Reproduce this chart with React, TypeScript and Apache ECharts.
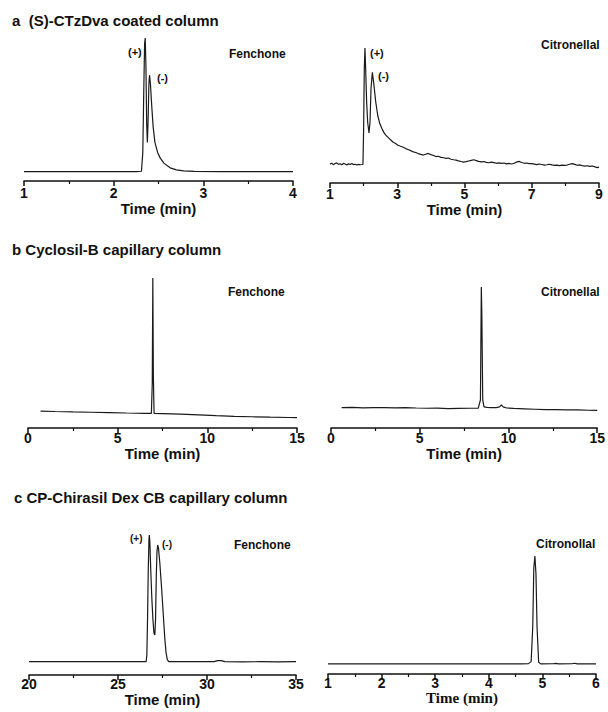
import React, { useEffect, useRef } from "react";
import * as echarts from "echarts";

// Panel a (left): Fenchone on (S)-CTzDva coated column
const aFenTime = [1.0, 1.5, 2.0, 2.25, 2.31, 2.325, 2.335, 2.345, 2.352, 2.36, 2.368, 2.376, 2.385, 2.393, 2.40, 2.41, 2.425, 2.44, 2.46, 2.49, 2.52, 2.56, 2.63, 2.70, 2.78, 2.9, 3.2, 3.6, 4.0];
const aFenSignal = [6.5, 6.5, 6.5, 6.5, 6.8, 20, 60, 96, 100, 80, 40, 27, 45, 68, 74, 68, 52, 38, 27, 20, 16, 12.5, 9.2, 7.8, 7.1, 6.7, 6.5, 6.5, 6.5];

// Panel a (right): Citronellal on (S)-CTzDva coated column
const aCitTime = [1.0, 1.05, 1.1, 1.15, 1.2, 1.25, 1.3, 1.35, 1.4, 1.45, 1.5, 1.55, 1.6, 1.65, 1.7, 1.75, 1.8, 1.85, 1.9, 1.95, 1.98, 2.0, 2.02, 2.04, 2.06, 2.09, 2.12, 2.16, 2.19, 2.22, 2.26, 2.3, 2.36, 2.42, 2.48, 2.54, 2.6, 2.66, 2.72, 2.8, 2.88, 2.95, 3.02, 3.1, 3.18, 3.25, 3.32, 3.4, 3.48, 3.55, 3.62, 3.7, 3.78, 3.85, 3.92, 4.0, 4.08, 4.15, 4.22, 4.3, 4.38, 4.45, 4.52, 4.6, 4.68, 4.75, 4.82, 4.9, 4.97, 5.05, 5.12, 5.2, 5.28, 5.35, 5.42, 5.5, 5.58, 5.65, 5.72, 5.8, 5.88, 5.95, 6.02, 6.1, 6.18, 6.25, 6.32, 6.4, 6.48, 6.55, 6.62, 6.7, 6.78, 6.85, 6.92, 7.0, 7.08, 7.15, 7.22, 7.3, 7.38, 7.45, 7.52, 7.6, 7.68, 7.75, 7.82, 7.9, 7.98, 8.05, 8.12, 8.2, 8.28, 8.35, 8.42, 8.5, 8.58, 8.65, 8.72, 8.8, 8.88, 8.95, 9.0];
const aCitSignal = [14.0, 14.6, 13.6, 14.4, 14.9, 13.8, 14.3, 13.5, 14.5, 14.1, 13.4, 14.2, 13.7, 14.4, 13.6, 13.9, 13.3, 13.8, 13.5, 13.7, 13.9, 40, 85, 100, 85, 60, 45, 37, 45, 70, 82, 74, 60, 50, 44, 40.5, 37.5, 35.5, 34.0, 32.0, 30.2, 29.3, 28.0, 27.2, 26.5, 25.5, 24.8, 24.0, 23.0, 22.6, 21.8, 21.2, 20.7, 21.3, 21.9, 21.0, 20.4, 19.6, 19.8, 19.0, 18.7, 18.2, 18.5, 17.6, 17.2, 16.9, 16.4, 15.9, 15.5, 15.8, 16.3, 16.8, 17.2, 16.6, 16.0, 15.7, 15.9, 15.3, 15.0, 15.4, 15.1, 14.6, 14.9, 14.5, 14.8, 14.2, 14.5, 14.1, 14.6, 15.5, 16.0, 15.2, 14.6, 14.8, 14.3, 14.4, 14.0, 13.6, 14.1, 13.7, 13.2, 13.5, 13.9, 13.4, 13.0, 13.3, 12.9, 13.2, 13.0, 13.3, 13.9, 14.4, 13.8, 13.1, 13.4, 12.9, 12.5, 12.8, 12.3, 12.6, 11.9, 11.4, 11.8];

// Panel b (left): Fenchone on Cyclosil-B
const bFenTime = [0.7, 1.5, 2.5, 3.5, 4.5, 5.5, 6.5, 6.88, 6.93, 6.96, 6.99, 7.03, 7.5, 8.5, 9.5, 10.5, 11.5, 12.5, 13.5, 14.5, 15.0];
const bFenSignal = [11.3, 11.0, 10.7, 10.5, 10.3, 10.0, 9.8, 9.8, 30, 100, 35, 9.8, 9.6, 9.2, 8.7, 8.2, 7.8, 7.5, 7.2, 7.0, 6.9];

// Panel b (right): Citronellal on Cyclosil-B
const bCitTime = [0.6, 1.2, 1.8, 2.4, 3.0, 3.6, 4.2, 4.8, 5.4, 6.0, 6.6, 7.2, 7.8, 8.3, 8.42, 8.47, 8.5, 8.55, 8.62, 8.8, 9.0, 9.3, 9.5, 9.6, 9.7, 9.9, 10.3, 10.9, 11.5, 12.1, 12.7, 13.3, 13.9, 14.5, 15.0];
const bCitSignal = [14.4, 14.6, 14.3, 14.5, 14.4, 14.3, 14.5, 14.2, 14.0, 14.1, 13.8, 13.9, 14.0, 14.1, 20, 100, 80, 20, 15.0, 14.6, 14.4, 14.5, 15.0, 16.4, 15.0, 14.2, 13.9, 13.6, 13.3, 13.0, 13.0, 12.9, 12.8, 12.6, 12.5];

// Panel c (left): Fenchone on CP-Chirasil Dex CB
const cFenTime = [20, 22, 24, 26, 26.58, 26.62, 26.66, 26.7, 26.74, 26.76, 26.79, 26.84, 26.9, 26.96, 27.02, 27.07, 27.11, 27.15, 27.19, 27.23, 27.28, 27.35, 27.45, 27.55, 27.63, 27.7, 27.77, 27.85, 28.2, 29.5, 30.4, 30.6, 30.8, 31.0, 32, 33, 34, 35];
const cFenSignal = [9.5, 9.5, 9.5, 9.5, 9.5, 14, 40, 75, 97, 100, 95, 75, 55, 40, 30, 28.6, 40, 70, 88, 92.9, 90, 80, 62, 42, 26, 16, 11, 9.6, 9.5, 9.5, 9.6, 10.3, 10.3, 9.6, 9.4, 9.5, 9.4, 9.6];

// Panel c (right): Citronellal on CP-Chirasil Dex CB
const cCitTime = [1.0, 2.0, 3.0, 4.0, 4.6, 4.74, 4.79, 4.82, 4.84, 4.86, 4.88, 4.9, 4.93, 4.97, 5.2, 5.25, 5.3, 5.55, 5.6, 5.65, 6.0];
const cCitSignal = [8.5, 8.5, 8.5, 8.5, 8.5, 8.8, 10.5, 40, 90, 100, 85, 40, 10, 8.6, 8.7, 9.0, 8.6, 8.7, 9.1, 8.6, 8.5];

const panelTitles = ["a  (S)-CTzDva coated column", "b Cyclosil-B capillary column", "c CP-Chirasil Dex CB capillary column"];
const axisName = "Time (min)";

const SANS = "Arial, 'Liberation Sans', Helvetica, sans-serif";
const SERIF = "'Times New Roman', 'Liberation Serif', serif";
const INK = "#111";

function zip(t: number[], v: number[]) {
  return t.map((x, i) => [x, v[i]]);
}

export default function App() {
  const ref = useRef<HTMLDivElement>(null);
  useEffect(() => {
    if (!ref.current) return;
    const chart = echarts.init(ref.current, undefined, { renderer: "svg" });

    const panels = [
      { grid: { left: 24, top: 38, width: 269, height: 143 }, min: 1, max: 4, interval: 1, margin: 5, nameGap: 18, data: zip(aFenTime, aFenSignal), serif: false },
      { grid: { left: 330, top: 48, width: 269, height: 135 }, min: 1, max: 9, interval: 2, margin: 4, nameGap: 17, data: zip(aCitTime, aCitSignal), serif: false },
      { grid: { left: 28, top: 278, width: 269, height: 150 }, min: 0, max: 15, interval: 5, margin: 3, nameGap: 13, data: zip(bFenTime, bFenSignal), serif: false },
      { grid: { left: 331, top: 287, width: 268, height: 141 }, min: 0, max: 15, interval: 5, margin: 3, nameGap: 13, data: zip(bCitTime, bCitSignal), serif: false },
      { grid: { left: 29, top: 535, width: 267, height: 140 }, min: 20, max: 35, interval: 5, margin: 2, nameGap: 11, data: zip(cFenTime, cFenSignal), serif: false },
      { grid: { left: 328, top: 556, width: 268, height: 118 }, min: 1, max: 6, interval: 1, margin: 2, nameGap: 12, data: zip(cCitTime, cCitSignal), serif: true },
    ];

    const txt = (text: string, x: number, y: number, size: number) => ({
      type: "text",
      x,
      y,
      style: { text, fill: INK, font: `bold ${size}px ${SANS}`, textAlign: "left", textVerticalAlign: "middle" },
    });

    chart.setOption({
      animation: false,
      backgroundColor: "#fff",
      grid: panels.map((p) => ({ ...p.grid, containLabel: false })),
      xAxis: panels.map((p, i) => ({
        gridIndex: i,
        type: "value",
        min: p.min,
        max: p.max,
        interval: p.interval,
        axisLine: { show: true, onZero: false, lineStyle: { color: INK, width: 1.5 } },
        axisTick: { show: true, length: 5, lineStyle: { color: INK, width: 1.5 } },
        minorTick: { show: true, splitNumber: 2, length: 3, lineStyle: { color: INK, width: 1.2 } },
        splitLine: { show: false },
        axisLabel: { margin: p.margin, fontSize: 14, fontWeight: "bold", color: INK, fontFamily: SANS },
        name: axisName,
        nameLocation: "middle",
        nameGap: p.nameGap,
        nameTextStyle: { fontSize: 15, fontWeight: "bold", color: INK, fontFamily: p.serif ? SERIF : SANS },
      })),
      yAxis: panels.map((p, i) => ({ gridIndex: i, type: "value", min: 0, max: 100, show: false })),
      series: panels.map((p, i) => ({
        type: "line",
        xAxisIndex: i,
        yAxisIndex: i,
        data: p.data,
        showSymbol: false,
        symbol: "none",
        lineStyle: { color: "#1a1a1a", width: 1.2 },
      })),
      graphic: [
        txt(panelTitles[0], 12, 20, 15),
        txt(panelTitles[1], 12, 249, 15),
        txt(panelTitles[2], 14, 497, 15),
        txt("Fenchone", 229, 54, 12),
        txt("(+)", 128, 52, 11),
        txt("(-)", 157, 78, 11),
        txt("Citronellal", 541, 45, 12),
        txt("(+)", 370, 53, 11),
        txt("(-)", 378, 76, 11),
        txt("Fenchone", 228, 292, 12),
        txt("Citronellal", 541, 292, 12),
        txt("(+)", 130, 538, 10),
        txt("(-)", 162, 544, 10),
        txt("Fenchone", 234, 545, 12),
        txt("Citronollal", 536, 544, 12),
      ],
    });
    return () => chart.dispose();
  }, []);

  return <div ref={ref} style={{ position: "fixed", left: 0, top: 0, width: 608, height: 712, background: "#fff" }} />;
}
